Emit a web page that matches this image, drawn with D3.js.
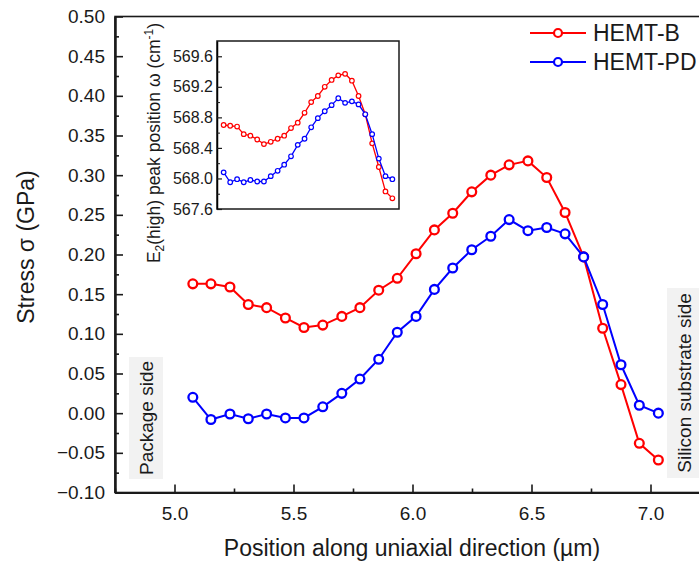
<!DOCTYPE html>
<html>
<head>
<meta charset="utf-8">
<script src="https://cdn.jsdelivr.net/npm/d3@7"></script>
<style>
  body { margin: 0; background: #fff; }
  svg { display: block; font-family: Arial, "Liberation Sans", sans-serif; }
</style>
</head>
<body>
<svg id="chart" width="699" height="562"></svg>
<script>
// positions along the uniaxial direction (µm), shared by both series
const positions = [5.077, 5.153, 5.233, 5.310, 5.387, 5.466, 5.544, 5.623, 5.703, 5.779,
  5.858, 5.936, 6.015, 6.092, 6.169, 6.249, 6.329, 6.406, 6.485, 6.564,
  6.641, 6.719, 6.799, 6.876, 6.953, 7.033];

// stress (GPa)
const stressB = [0.163, 0.163, 0.159, 0.137, 0.133, 0.120, 0.108, 0.111, 0.122, 0.133,
  0.155, 0.170, 0.201, 0.231, 0.252, 0.279, 0.300, 0.313, 0.318, 0.297,
  0.253, 0.197, 0.107, 0.036, -0.038, -0.059];
const stressPD = [0.020, -0.008, -0.001, -0.007, -0.001, -0.006, -0.006, 0.008, 0.025, 0.043,
  0.068, 0.102, 0.122, 0.156, 0.183, 0.206, 0.223, 0.244, 0.230, 0.234,
  0.226, 0.197, 0.137, 0.061, 0.010, 0.000];

// inset: E2(high) peak position (cm-1)
const peakB = [568.70, 568.69, 568.68, 568.58, 568.56, 568.51, 568.45, 568.48, 568.52, 568.56,
  568.66, 568.73, 568.86, 569.00, 569.08, 569.20, 569.29, 569.35, 569.37, 569.28,
  569.08, 568.84, 568.46, 568.15, 567.83, 567.74];
const peakPD = [568.08, 567.95, 567.99, 567.95, 567.98, 567.96, 567.96, 568.03, 568.10, 568.18,
  568.29, 568.44, 568.52, 568.67, 568.79, 568.88, 568.96, 569.05, 568.99, 569.01,
  568.97, 568.84, 568.58, 568.26, 568.03, 567.99];

const seriesNames = ["HEMT-B", "HEMT-PD"];
const seriesColors = ["#ff0000", "#0000ff"];

const xTicks = [5.0, 5.5, 6.0, 6.5, 7.0];
const xMinor = [4.75, 5.25, 5.75, 6.25, 6.75];
const yTicks = d3.range(-0.1, 0.5001, 0.05);
const yMinor = d3.range(-0.075, 0.5, 0.05);
const insetTicks = [567.6, 568.0, 568.4, 568.8, 569.2, 569.6];
const insetMinor = [567.8, 568.2, 568.6, 569.0, 569.4];

const svg = d3.select("#chart");
const ink = "#1a1a1a";

// main scales
const x = d3.scaleLinear().domain([4.75, 7.25]).range([115, 710]);
const y = d3.scaleLinear().domain([-0.1, 0.5]).range([492.5, 16.5]);

// frame
svg.append("rect")
  .attr("x", 115).attr("y", 16.5)
  .attr("width", 595).attr("height", 476)
  .attr("fill", "none").attr("stroke", ink).attr("stroke-width", 1.6);

// side annotation boxes
function sideLabel(cx, cy, w, h, text) {
  svg.append("rect")
    .attr("x", cx - w / 2).attr("y", cy - h / 2)
    .attr("width", w).attr("height", h)
    .attr("fill", "#f2f2f2");
  svg.append("text")
    .attr("transform", `translate(${cx + 7},${cy}) rotate(-90)`)
    .attr("text-anchor", "middle")
    .attr("font-size", 19)
    .attr("fill", ink)
    .text(text);
}
sideLabel(146, 418, 34, 122, "Package side");
sideLabel(684, 383, 34, 190, "Silicon substrate side");

// axes
const xAxis = svg.append("g").attr("transform", "translate(0,492.5)")
  .call(d3.axisBottom(x).tickValues(xTicks).tickFormat(d3.format(".1f"))
    .tickSize(-8).tickSizeOuter(0).tickPadding(10));
svg.append("g").attr("transform", "translate(0,492.5)")
  .call(d3.axisBottom(x).tickValues(xMinor).tickFormat("").tickSize(-4).tickSizeOuter(0));

const yAxis = svg.append("g").attr("transform", "translate(115,0)")
  .call(d3.axisLeft(y).tickValues(yTicks).tickFormat(d3.format(".2f"))
    .tickSize(-8).tickSizeOuter(0).tickPadding(10));
svg.append("g").attr("transform", "translate(115,0)")
  .call(d3.axisLeft(y).tickValues(yMinor).tickFormat("").tickSize(-4).tickSizeOuter(0));

svg.selectAll(".domain").attr("stroke", ink).attr("stroke-width", 2);
svg.selectAll(".tick line").attr("stroke", ink).attr("stroke-width", 1.6);
xAxis.selectAll("text").attr("font-size", 19).attr("fill", ink).attr("dy", "0.9em");
yAxis.selectAll("text").attr("font-size", 19).attr("fill", ink);

// axis titles
svg.append("text")
  .attr("x", 412).attr("y", 556)
  .attr("text-anchor", "middle")
  .attr("font-size", 23).attr("fill", ink)
  .text("Position along uniaxial direction (µm)");
svg.append("text")
  .attr("transform", "translate(34,247) rotate(-90)")
  .attr("text-anchor", "middle")
  .attr("font-size", 23).attr("fill", ink)
  .text("Stress σ (GPa)");

// main series
const mainSeries = [stressB, stressPD];
const line = d3.line().x(d => x(d[0])).y(d => y(d[1]));
mainSeries.forEach((vals, i) => {
  const pts = positions.map((p, j) => [p, vals[j]]);
  const g = svg.append("g");
  g.append("path").datum(pts)
    .attr("d", line).attr("fill", "none")
    .attr("stroke", seriesColors[i]).attr("stroke-width", 2);
  g.selectAll("circle").data(pts).enter().append("circle")
    .attr("cx", d => x(d[0])).attr("cy", d => y(d[1]))
    .attr("r", 4.4).attr("fill", "#fff")
    .attr("stroke", seriesColors[i]).attr("stroke-width", 2.3);
});

// legend
seriesNames.forEach((name, i) => {
  const ly = 33 + i * 29;
  svg.append("line").attr("x1", 530).attr("x2", 586).attr("y1", ly).attr("y2", ly)
    .attr("stroke", seriesColors[i]).attr("stroke-width", 2);
  svg.append("circle").attr("cx", 558).attr("cy", ly).attr("r", 4)
    .attr("fill", "#fff").attr("stroke", seriesColors[i]).attr("stroke-width", 2.2);
  svg.append("text").attr("x", 593).attr("y", ly).attr("dy", "0.35em")
    .attr("font-size", 23).attr("fill", ink).text(name);
});

// inset
const ix = d3.scaleLinear().domain([5.0, 7.11]).range([217, 399]);
const iy = d3.scaleLinear().domain([567.6, 569.8]).range([209, 41]);

svg.append("rect")
  .attr("x", 217).attr("y", 41).attr("width", 182).attr("height", 168)
  .attr("fill", "#fff").attr("stroke", ink).attr("stroke-width", 1.5);

const insetAxis = svg.append("g").attr("transform", "translate(217,0)")
  .call(d3.axisLeft(iy).tickValues(insetTicks).tickFormat(d3.format(".1f"))
    .tickSize(-5).tickSizeOuter(0).tickPadding(4));
svg.append("g").attr("transform", "translate(217,0)")
  .call(d3.axisLeft(iy).tickValues(insetMinor).tickFormat("").tickSize(-3).tickSizeOuter(0))
  .selectAll(".domain").remove();
insetAxis.select(".domain").attr("stroke-width", 1.5);
svg.selectAll(".tick line").attr("stroke", ink);
insetAxis.selectAll(".tick line").attr("stroke-width", 1.2);
insetAxis.selectAll("text").attr("font-size", 16).attr("fill", ink);

const insetLabel = svg.append("text")
  .attr("transform", "translate(160,143) rotate(-90)")
  .attr("text-anchor", "middle")
  .attr("font-size", 17.5).attr("fill", ink);
insetLabel.append("tspan").text("E");
insetLabel.append("tspan").attr("font-size", 12).attr("dy", 4).text("2");
insetLabel.append("tspan").attr("dy", -4).text("(high) peak position ω (cm");
insetLabel.append("tspan").attr("font-size", 12).attr("dy", -7).text("-1");
insetLabel.append("tspan").attr("dy", 7).text(")");

const insetSeries = [peakB, peakPD];
const iline = d3.line().x(d => ix(d[0])).y(d => iy(d[1]));
insetSeries.forEach((vals, i) => {
  const pts = positions.map((p, j) => [p, vals[j]]);
  const g = svg.append("g");
  g.append("path").datum(pts)
    .attr("d", iline).attr("fill", "none")
    .attr("stroke", seriesColors[i]).attr("stroke-width", 1.3);
  g.selectAll("circle").data(pts).enter().append("circle")
    .attr("cx", d => ix(d[0])).attr("cy", d => iy(d[1]))
    .attr("r", 2.3).attr("fill", "#fff")
    .attr("stroke", seriesColors[i]).attr("stroke-width", 1.2);
});
</script>
</body>
</html>
